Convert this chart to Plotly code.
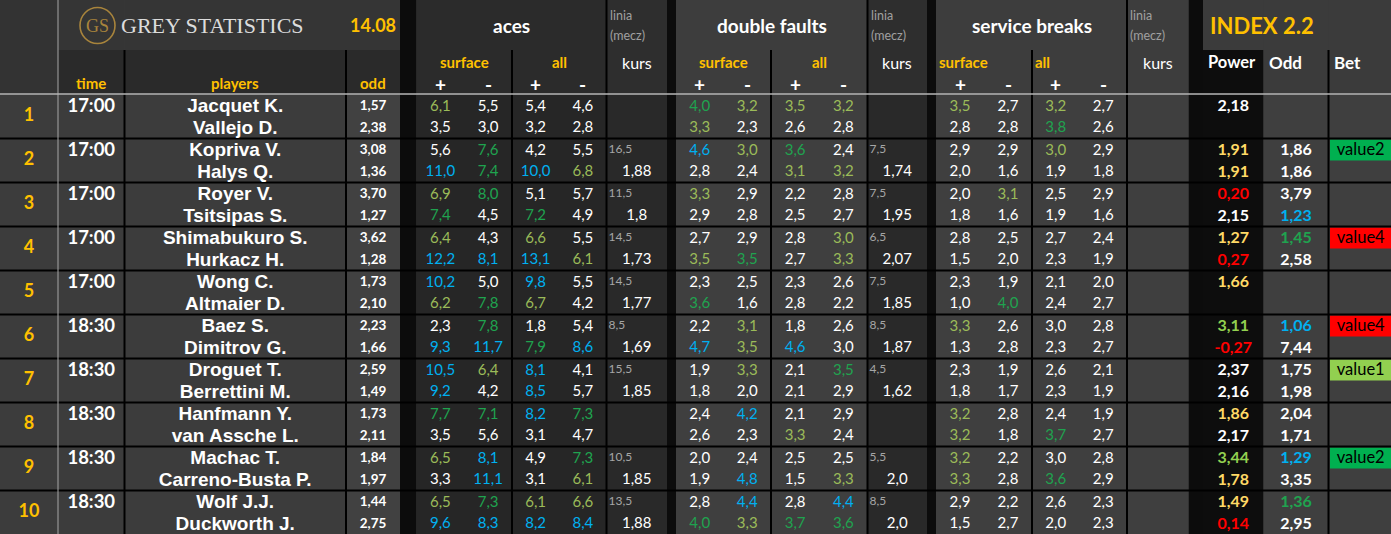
import plotly.graph_objects as go

# ====================== DATA ======================
match_no = [1, 2, 3, 4, 5, 6, 7, 8, 9, 10]
match_time = ["17:00", "17:00", "17:00", "17:00", "17:00",
              "18:30", "18:30", "18:30", "18:30", "18:30"]

# two players per match (sub-rows)
players = ["Jacquet K.", "Vallejo D.", "Kopriva V.", "Halys Q.", "Royer V.", "Tsitsipas S.",
           "Shimabukuro S.", "Hurkacz H.", "Wong C.", "Altmaier D.", "Baez S.", "Dimitrov G.",
           "Droguet T.", "Berrettini M.", "Hanfmann Y.", "van Assche L.", "Machac T.",
           "Carreno-Busta P.", "Wolf J.J.", "Duckworth J."]
player_odd = [1.57, 2.38, 3.08, 1.36, 3.70, 1.27, 3.62, 1.28, 1.73, 2.10,
              2.23, 1.66, 2.59, 1.49, 1.73, 2.11, 1.84, 1.97, 1.44, 2.75]

# aces
aces_surf_plus = [6.1, 3.5, 5.6, 11.0, 6.9, 7.4, 6.4, 12.2, 10.2, 6.2,
                  2.3, 9.3, 10.5, 9.2, 7.7, 3.5, 6.5, 3.3, 6.5, 9.6]
aces_surf_minus = [5.5, 3.0, 7.6, 7.4, 8.0, 4.5, 4.3, 8.1, 5.0, 7.8,
                   7.8, 11.7, 6.4, 4.2, 7.1, 5.6, 8.1, 11.1, 7.3, 8.3]
aces_all_plus = [5.4, 3.2, 4.2, 10.0, 5.1, 7.2, 6.6, 13.1, 9.8, 6.7,
                 1.8, 7.9, 8.1, 8.5, 8.2, 3.1, 4.9, 3.1, 6.1, 8.2]
aces_all_minus = [4.6, 2.8, 5.5, 6.8, 5.7, 4.9, 5.5, 6.1, 5.5, 4.2,
                  5.4, 8.6, 4.1, 5.7, 7.3, 4.7, 7.3, 6.1, 6.6, 8.4]
aces_line = [None, 16.5, 11.5, 14.5, 14.5, 8.5, 15.5, None, 10.5, 13.5]
aces_kurs = [None, 1.88, 1.8, 1.73, 1.77, 1.69, 1.85, None, 1.85, 1.88]

# double faults
df_surf_plus = [4.0, 3.3, 4.6, 2.8, 3.3, 2.9, 2.7, 3.5, 2.3, 3.6,
                2.2, 4.7, 1.9, 1.8, 2.4, 2.6, 2.0, 1.9, 2.8, 4.0]
df_surf_minus = [3.2, 2.3, 3.0, 2.4, 2.9, 2.8, 2.9, 3.5, 2.5, 1.6,
                 3.1, 3.5, 3.3, 2.0, 4.2, 2.3, 2.4, 4.8, 4.4, 3.3]
df_all_plus = [3.5, 2.6, 3.6, 3.1, 2.2, 2.5, 2.8, 2.7, 2.3, 2.8,
               1.8, 4.6, 2.1, 2.1, 2.1, 3.3, 2.5, 1.5, 2.8, 3.7]
df_all_minus = [3.2, 2.8, 2.4, 3.2, 2.8, 2.7, 3.0, 3.3, 2.6, 2.2,
                2.6, 3.0, 3.5, 2.9, 2.9, 2.4, 2.5, 3.3, 4.4, 3.6]
df_line = [None, 7.5, 7.5, 6.5, 7.5, 8.5, 4.5, None, 5.5, 8.5]
df_kurs = [None, 1.74, 1.95, 2.07, 1.85, 1.87, 1.62, None, 2.0, 2.0]

# service breaks
sb_surf_plus = [3.5, 2.8, 2.9, 2.0, 2.0, 1.8, 2.8, 1.5, 2.3, 1.0,
                3.3, 1.3, 2.3, 1.8, 3.2, 3.2, 3.2, 3.3, 2.9, 1.5]
sb_surf_minus = [2.7, 2.8, 2.9, 1.6, 3.1, 1.6, 2.5, 2.0, 1.9, 4.0,
                 2.6, 2.8, 1.9, 1.7, 2.8, 1.8, 2.2, 2.8, 2.2, 2.7]
sb_all_plus = [3.2, 3.8, 3.0, 1.9, 2.5, 1.9, 2.7, 2.3, 2.1, 2.4,
               3.0, 2.3, 2.6, 2.3, 2.4, 3.7, 3.0, 3.6, 2.6, 2.0]
sb_all_minus = [2.7, 2.6, 2.9, 1.8, 2.9, 1.6, 2.4, 1.9, 2.0, 2.7,
                2.8, 2.7, 2.1, 1.9, 1.9, 2.7, 2.8, 2.9, 2.3, 2.3]

# INDEX 2.2
index_power = [2.18, None, 1.91, 1.91, 0.20, 2.15, 1.27, 0.27, 1.66, None,
               3.11, -0.27, 2.37, 2.16, 1.86, 2.17, 3.44, 1.78, 1.49, 0.14]
index_odd = [None, None, 1.86, 1.86, 3.79, 1.23, 1.45, 2.58, None, None,
             1.06, 7.44, 1.75, 1.98, 2.04, 1.71, 1.29, 3.35, 1.36, 2.95]
bet = [None, "value2", None, "value4", None, "value4", "value1", None, "value2", None]

# conditional-format codes (W white, L light green, D green, B blue, Y yellow, R red, G lime)
aces_surf_plus_fmt = "LW WB LD LB BL WB BB DW LW LB"
aces_surf_minus_fmt = "WW DD DW WB WD DB LW DW BB DB"
aces_all_plus_fmt = "WW WB WD LB BL WD BB BW WW LB"
aces_all_minus_fmt = "WW WL WW WL WW WB WW DW DL LB"
df_surf_plus_fmt = "DL BW LW WL WD WB WW WW WW WD"
df_surf_minus_fmt = "LW LW WW WD WW LL LW BW WB BL"
df_all_plus_fmt = "LW DL WW WW WW WB WW WL WW WD"
df_all_minus_fmt = "LW WL WW LL WW WW DW WW WL BD"
sb_surf_plus_fmt = "LW WW WW WW WW LW WW LL LL WW"
sb_surf_minus_fmt = "WW WW LW WW WD WW WW WW WW WW"
sb_all_plus_fmt = "LD LW WW WW WW WW WW WD WD WW"
sb_all_minus_fmt = "WW WW WW WW WW WW WW WW WW WW"
index_power_fmt = "W- YY RW YR Y- GR WW YW GY YR"
index_odd_fmt = "-- WW WB DW -- BW WW WW BW DW"

# ====================== STYLE / LAYOUT ======================
W, H = 1391, 534
FONT = "Lato, 'Open Sans', sans-serif"
NAME_FONT = "'Liberation Sans', Arial, sans-serif"
SERIF = "'Liberation Serif', 'DejaVu Serif', serif"
ORANGE = "#ffc000"
CMAP = {"W": "#ffffff", "L": "#9bbb59", "D": "#1fa34f", "B": "#00b0f0",
        "Y": "#ffd966", "R": "#ff0000", "G": "#92d050"}
BET_COL = {"value1": "#92d050", "value2": "#00b050", "value4": "#ff0000"}

COLS = {
    "idx": (0, 58), "time": (58, 124.5), "players": (124.5, 346), "odd": (346, 400),
    "gap1": (400, 416.5),
    "a_s": (416.5, 512), "a_a": (512, 606.5), "a_k": (606.5, 667), "gap2": (667, 676),
    "d_s": (676, 771), "d_a": (771, 867.5), "d_k": (867.5, 927), "gap3": (927, 936),
    "s_s": (936, 1032), "s_a": (1032, 1127), "s_k": (1127, 1188.5), "gap4": (1188.5, 1203),
    "pow": (1203, 1263.5), "iodd": (1263.5, 1328.5), "bet": (1328.5, 1391),
}
# (header row 1, header row 2, data)
BG = {
    "idx": ("#333333", "#333333", "#3c3c3c"),
    "time": ("#353535", "#2a2a2a", "#3c3c3c"),
    "players": ("#353535", "#2a2a2a", "#3c3c3c"),
    "odd": ("#353535", "#2a2a2a", "#414141"),
    "gap1": ("#0c0c0c",) * 3, "gap2": ("#0c0c0c",) * 3,
    "gap3": ("#0c0c0c",) * 3, "gap4": ("#0c0c0c",) * 3,
    "a_s": ("#2b2b2b", "#2b2b2b", "#262626"),
    "a_a": ("#2b2b2b", "#2b2b2b", "#262626"),
    "a_k": ("#2e2e2e", "#2e2e2e", "#292929"),
    "d_s": ("#3d3d3d", "#3d3d3d", "#3f3f3f"),
    "d_a": ("#3d3d3d", "#3d3d3d", "#3f3f3f"),
    "d_k": ("#2e2e2e", "#2e2e2e", "#292929"),
    "s_s": ("#3d3d3d", "#3d3d3d", "#3f3f3f"),
    "s_a": ("#3d3d3d", "#3d3d3d", "#3f3f3f"),
    "s_k": ("#3d3d3d", "#3d3d3d", "#3f3f3f"),
    "pow": ("#3b3b3b", "#0d0d0d", "#0d0d0d"),
    "iodd": ("#3b3b3b", "#3b3b3b", "#3f3f3f"),
    "bet": ("#3b3b3b", "#3b3b3b", "#3f3f3f"),
}
H1_BOT = 50
DATA_TOP = 94.5
ROW_H = 44


def cx(key, frac=0.5):
    a, b = COLS[key]
    return a + (b - a) * frac


def row_top(i):
    return DATA_TOP + ROW_H * i


def sub_y(k):
    return row_top(k // 2) + (12.5 if k % 2 == 0 else 34)


def codes(s):
    return list(s.replace(" ", ""))


def f1(v):
    return f"{v:.1f}".replace(".", ",")


def f2(v):
    return f"{v:.2f}".replace(".", ",")


def fs(v):
    return str(v).replace(".", ",")


fig = go.Figure()
shapes = []


def rect(x0, y0, x1, y1, color):
    shapes.append(dict(type="rect", xref="x", yref="y", x0=x0, x1=x1, y0=y0, y1=y1,
                       fillcolor=color, line=dict(width=0), layer="below"))


def line(x0, y0, x1, y1, color, width):
    shapes.append(dict(type="line", xref="x", yref="y", x0=x0, x1=x1, y0=y0, y1=y1,
                       line=dict(color=color, width=width), layer="below"))


for key, (c1, c2, c3) in BG.items():
    a, b = COLS[key]
    rect(a, 0, b, H1_BOT, c1)
    rect(a, H1_BOT, b, DATA_TOP, c2)
    rect(a, DATA_TOP, b, H, c3)

# bet highlight boxes
for i, b in enumerate(bet):
    if b:
        a, e = COLS["bet"]
        rect(a + 1.5, row_top(i) + 1, e, row_top(i) + 22, BET_COL[b])

# row separators
for i in range(1, 10):
    line(0, row_top(i), W, row_top(i), "#000000", 2)

# vertical separators
for key, full in [("time", False), ("players", False), ("a_s", False), ("a_a", True),
                  ("d_s", False), ("d_a", True), ("s_s", False), ("s_a", True), ("iodd", False)]:
    xe = COLS[key][1]
    line(xe, 0 if full else H1_BOT, xe, H, "#000000", 2)
line(COLS["idx"][1], 0, COLS["idx"][1], H, "#a6a6a6", 1)
line(0, DATA_TOP - 0.5, W, DATA_TOP - 0.5, "#b4b4b4", 1.5)

# GS logo circle
shapes.append(dict(type="circle", xref="x", yref="y", x0=80, x1=115, y0=7.5, y1=43.5,
                   line=dict(color="#a8843c", width=1.6), fillcolor="rgba(0,0,0,0)"))


def text_trace(xs, ys, txt, colors, size, bold=False, pos="middle center", family=FONT):
    fig.add_trace(go.Scatter(
        x=xs, y=ys, text=txt, mode="text", textposition=pos,
        textfont=dict(family=family, size=size, color=colors, weight=700 if bold else 400),
        hoverinfo="skip", showlegend=False, cliponaxis=False))


# index numbers, time
text_trace([cx("idx")] * 10, [row_top(i) + 22 for i in range(10)],
           [str(n) for n in match_no], ORANGE, 18, bold=True)
text_trace([cx("time")] * 10, [sub_y(2 * i) for i in range(10)], match_time, "#ffffff", 18.5, bold=True)
# players and odds
text_trace([cx("players")] * 20, [sub_y(k) + 0.5 for k in range(20)], players, "#ffffff", 19,
           bold=True, family=NAME_FONT)
text_trace([cx("odd")] * 20, [sub_y(k) for k in range(20)], [f2(v) for v in player_odd],
           "#ffffff", 13.5, bold=True)

# statistics
stat_groups = [
    ("a_s", 0.25, aces_surf_plus, aces_surf_plus_fmt), ("a_s", 0.75, aces_surf_minus, aces_surf_minus_fmt),
    ("a_a", 0.25, aces_all_plus, aces_all_plus_fmt), ("a_a", 0.75, aces_all_minus, aces_all_minus_fmt),
    ("d_s", 0.25, df_surf_plus, df_surf_plus_fmt), ("d_s", 0.75, df_surf_minus, df_surf_minus_fmt),
    ("d_a", 0.25, df_all_plus, df_all_plus_fmt), ("d_a", 0.75, df_all_minus, df_all_minus_fmt),
    ("s_s", 0.25, sb_surf_plus, sb_surf_plus_fmt), ("s_s", 0.75, sb_surf_minus, sb_surf_minus_fmt),
    ("s_a", 0.25, sb_all_plus, sb_all_plus_fmt), ("s_a", 0.75, sb_all_minus, sb_all_minus_fmt),
]
sx, sy, st, sc = [], [], [], []
for key, frac, vals, fmt in stat_groups:
    for k, (v, c) in enumerate(zip(vals, codes(fmt))):
        sx.append(cx(key, frac))
        sy.append(sub_y(k))
        st.append(f1(v))
        sc.append(CMAP[c])
text_trace(sx, sy, st, sc, 15)

# linia / kurs
lx, ly, lt, kx, ky, kt = [], [], [], [], [], []
for key, lines_, kurs_ in [("a_k", aces_line, aces_kurs), ("d_k", df_line, df_kurs)]:
    for i, (ln, ku) in enumerate(zip(lines_, kurs_)):
        if ln is not None:
            lx.append(COLS[key][0] + 2)
            ly.append(sub_y(2 * i) - 1.5)
            lt.append(fs(ln))
        if ku is not None:
            kx.append(cx(key))
            ky.append(sub_y(2 * i + 1))
            kt.append(fs(ku))
text_trace(lx, ly, lt, "#a6a6a6", 12, pos="middle right")
text_trace(kx, ky, kt, "#ffffff", 15)

# INDEX columns
px_, py_, pt_, pc_ = [], [], [], []
for k, (v, c) in enumerate(zip(index_power, codes(index_power_fmt))):
    if v is not None:
        px_.append(cx("pow")); py_.append(sub_y(k)); pt_.append(f2(v)); pc_.append(CMAP[c])
text_trace(px_, py_, pt_, pc_, 16, bold=True)
ox, oy, ot, oc = [], [], [], []
for k, (v, c) in enumerate(zip(index_odd, codes(index_odd_fmt))):
    if v is not None:
        ox.append(cx("iodd")); oy.append(sub_y(k)); ot.append(f2(v)); oc.append(CMAP[c])
text_trace(ox, oy, ot, oc, 16, bold=True)
bx, by, bt = [], [], []
for i, b in enumerate(bet):
    if b:
        bx.append(cx("bet") + 1); by.append(sub_y(2 * i) - 0.5); bt.append(b)
text_trace(bx, by, bt, "#000000", 16.5)

# ====================== HEADER TEXT ======================
ann = []


def label(x, y, text, size, color="#ffffff", bold=False, anchor="center", family=FONT):
    ann.append(dict(x=x, y=y, xref="x", yref="y", text=text, showarrow=False,
                    xanchor=anchor, yanchor="middle",
                    font=dict(family=family, size=size, color=color,
                              weight=700 if bold else 400)))


label(97.5, 25.5, "GS", 18, "#a8843c", family=SERIF)
label(119, 25.5, "GREY STATISTICS", 22, "#dcdcdc", anchor="left", family=SERIF)
label(cx("odd"), 25, "14.08", 18, ORANGE, bold=True)

for s_key, a_key, k_key, title, left_sub in [("a_s", "a_a", "a_k", "aces", False),
                                              ("d_s", "d_a", "d_k", "double faults", False),
                                              ("s_s", "s_a", "s_k", "service breaks", True)]:
    label((COLS[s_key][0] + COLS[a_key][1]) / 2, 25, title, 19, bold=True)
    label(COLS[k_key][0] + 1, 15.5, "linia", 12.5, "#a0a0a0", anchor="left")
    label(COLS[k_key][0] + 1, 35, "(mecz)", 12.5, "#a0a0a0", anchor="left")
    label(cx(k_key), 62, "kurs", 16)
    for key, name in [(s_key, "surface"), (a_key, "all")]:
        if left_sub:
            label(COLS[key][0] + 1, 62, name, 15, ORANGE, bold=True, anchor="left")
        else:
            label(cx(key), 62, name, 15, ORANGE, bold=True)
        label(cx(key, 0.25), 84.5, "+", 19, bold=True)
        label(cx(key, 0.75), 84.5, "-", 19, bold=True)

label(cx("time"), 83, "time", 15, ORANGE, bold=True)
label(cx("players"), 83, "players", 15, ORANGE, bold=True)
label(cx("odd"), 83, "odd", 15, ORANGE, bold=True)
label(COLS["pow"][0] + 5, 25, "INDEX 2.2", 22, ORANGE, bold=True, anchor="left")
label(COLS["pow"][0] + 3, 62, "Power", 16.5, bold=True, anchor="left")
label(COLS["iodd"][0] + 3, 62, "Odd", 17, bold=True, anchor="left")
label(COLS["bet"][0] + 3, 62, "Bet", 17, bold=True, anchor="left")

fig.update_layout(
    width=W, height=H, margin=dict(l=0, r=0, t=0, b=0, pad=0),
    paper_bgcolor="#3c3c3c", plot_bgcolor="#3c3c3c",
    xaxis=dict(range=[0, W], visible=False, fixedrange=True),
    yaxis=dict(range=[H, 0], visible=False, fixedrange=True),
    shapes=shapes, annotations=ann, showlegend=False,
)

fig.write_html("out.html", config={"displayModeBar": False, "staticPlot": True},
               post_script="document.body.style.margin='0';document.body.style.overflow='hidden';")
